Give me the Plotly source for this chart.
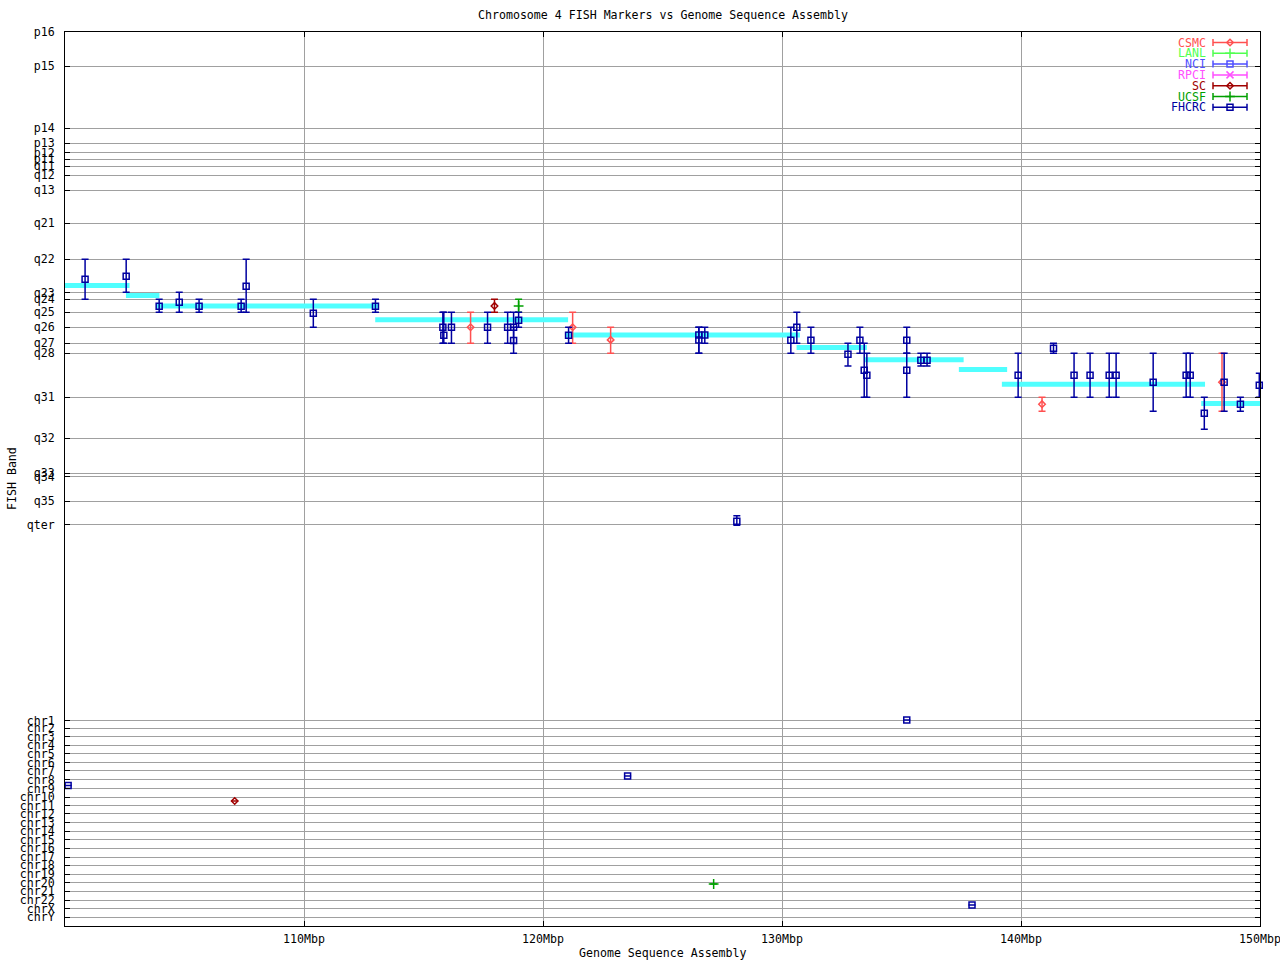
import plotly.graph_objects as go

# ---------------- axis definitions ----------------
band_labels = ["p16", "p15", "p14", "p13", "p12", "p11", "q11", "q12", "q13",
               "q21", "q22", "q23", "q24", "q25", "q26", "q27", "q28",
               "q31", "q32", "q33", "q34", "q35", "qter",
               "chr1", "chr2", "chr3", "chr4", "chr5", "chr6", "chr7", "chr8",
               "chr9", "chr10", "chr11", "chr12", "chr13", "chr14", "chr15",
               "chr16", "chr17", "chr18", "chr19", "chr20", "chr21", "chr22",
               "chrX", "chrY"]
band_pos = [32.0, 66.3, 128.3, 143.3, 153.0, 159.3, 166.3, 175.3, 190.3,
            223.3, 259.3, 292.7, 299.3, 312.3, 327.3, 343.3, 353.3,
            397.3, 438.3, 473.3, 476.7, 501.3, 525.0,
            720.7, 728.3, 737.0, 745.3, 754.0, 762.7, 771.0, 780.0,
            788.7, 797.3, 806.0, 814.0, 823.0, 831.3, 840.0,
            848.7, 857.3, 865.7, 874.3, 883.0, 891.7, 900.3,
            909.0, 917.7]
y_range = [926.3, 32.0]

x_tick_vals = [110, 120, 130, 140, 150]
x_tick_text = ["110Mbp", "120Mbp", "130Mbp", "140Mbp", "150Mbp"]
x_range = [100, 150]

# ---------------- genome sequence assembly (cyan) ----------------
asm_start = [99.9, 102.55, 103.82, 112.98, 120.93, 130.61, 133.46, 137.4, 139.2, 147.54]
asm_end = [102.7, 103.95, 113.1, 121.05, 130.75, 133.55, 137.6, 139.42, 147.7, 150.0]
asm_band = [285.7, 295.7, 306.0, 319.8, 335.0, 347.5, 359.8, 369.5, 384.4, 403.5]

# ---------------- FISH markers ----------------
fhcrc_x = [100.84, 102.56, 103.94, 104.78, 105.61, 107.37, 107.58, 110.39, 112.99,
           115.81, 115.85, 116.17, 117.68, 118.52, 118.77, 118.77, 118.98, 121.07,
           126.52, 126.52, 126.77, 130.37, 130.62, 131.21, 132.76, 133.26, 133.44,
           133.55, 135.22, 135.22, 135.81, 136.07, 139.88, 141.36, 142.22, 142.89,
           143.69, 143.98, 145.53, 146.91, 147.08, 147.67, 148.50, 149.18, 149.97,
           128.11, 135.22, 123.54, 137.95, 100.13]
fhcrc_y = [279.3, 276.3, 306.3, 302.3, 306.3, 306.3, 286.3, 313.3, 306.3,
           327.3, 335.3, 327.3, 327.3, 327.3, 327.3, 340.5, 320.3, 335.3,
           335.0, 340.0, 335.0, 340.3, 327.3, 340.3, 354.3, 340.3, 370.3,
           375.3, 340.3, 370.3, 360.3, 360.3, 375.3, 348.3, 375.3, 375.3,
           375.3, 375.3, 382.3, 375.3, 375.3, 413.3, 382.3, 404.3, 385.3,
           521.3, 720.3, 776.3, 905.3, 785.7]
fhcrc_lo = [259.3, 259.3, 299.3, 292.3, 299.3, 299.3, 259.3, 299.3, 299.3,
            312.3, 312.3, 312.3, 312.3, 312.3, 312.3, 327.3, 312.3, 327.3,
            327.3, 327.3, 327.3, 327.3, 312.3, 327.3, 343.3, 327.3, 343.3,
            353.3, 327.3, 353.3, 353.3, 353.3, 353.3, 343.3, 353.3, 353.3,
            353.3, 353.3, 353.3, 353.3, 353.3, 397.3, 353.3, 397.3, 373.3,
            516.0, 720.3, 776.3, 905.3, 785.7]
fhcrc_hi = [299.3, 292.3, 312.3, 312.3, 312.3, 312.3, 312.3, 327.3, 312.3,
            343.3, 343.3, 343.3, 343.3, 343.3, 343.3, 353.3, 327.3, 343.3,
            353.3, 353.3, 343.3, 353.3, 343.3, 353.3, 366.0, 353.3, 397.3,
            397.3, 353.3, 397.3, 366.0, 366.0, 397.3, 353.3, 397.3, 397.3,
            397.3, 397.3, 411.3, 397.3, 397.3, 429.3, 411.3, 411.3, 397.3,
            525.3, 720.3, 776.3, 905.3, 785.7]

csmc_x = [116.97, 121.24, 122.83, 140.88, 148.41]
csmc_y = [327.3, 327.3, 340.0, 404.3, 382.3]
csmc_lo = [312.3, 312.3, 327.3, 397.3, 353.3]
csmc_hi = [343.3, 343.3, 353.3, 411.3, 411.3]

sc_x = [117.97, 107.10]
sc_y = [306.0, 801.3]
sc_lo = [299.3, 801.3]
sc_hi = [312.3, 801.3]

ucsf_x = [118.98, 127.14]
ucsf_y = [306.0, 884.3]
ucsf_lo = [299.3, 884.3]
ucsf_hi = [312.3, 884.3]

lanl_x, lanl_y, lanl_lo, lanl_hi = [], [], [], []
nci_x, nci_y, nci_lo, nci_hi = [], [], [], []
rpci_x, rpci_y, rpci_lo, rpci_hi = [], [], [], []

# ---------------- styles ----------------
FONT = "DejaVu Sans Mono"
FS = 11.6
CYAN = "#50ffff"
GRID = "#a0a0a0"

sources = [
    ("CSMC", "#ff5050", "diamond-open", csmc_x, csmc_y, csmc_lo, csmc_hi),
    ("LANL", "#50ff50", "cross-thin-open", lanl_x, lanl_y, lanl_lo, lanl_hi),
    ("NCI", "#5050ff", "square-open", nci_x, nci_y, nci_lo, nci_hi),
    ("RPCI", "#ff50ff", "x-thin-open", rpci_x, rpci_y, rpci_lo, rpci_hi),
    ("SC", "#a00000", "diamond-open", sc_x, sc_y, sc_lo, sc_hi),
    ("UCSF", "#00a000", "cross-thin-open", ucsf_x, ucsf_y, ucsf_lo, ucsf_hi),
    ("FHCRC", "#0000a0", "square-open", fhcrc_x, fhcrc_y, fhcrc_lo, fhcrc_hi),
]


def msize(sym):
    if "square" in sym:
        return 6
    if "diamond" in sym:
        return 5
    return 7


fig = go.Figure()

# cyan assembly segments
sx, sy = [], []
for a, b, yb in zip(asm_start, asm_end, asm_band):
    sx += [a, b, None]
    sy += [yb, yb, None]
fig.add_trace(go.Scatter(x=sx, y=sy, mode="lines", line=dict(color=CYAN, width=5),
                         showlegend=False, hoverinfo="skip"))

for name, col, sym, xs, ys, lo, hi in sources:
    if not xs:
        continue
    plus = [h - y for y, h in zip(ys, hi)]
    minus = [y - l for y, l in zip(ys, lo)]
    fig.add_trace(go.Scatter(
        x=xs, y=ys, mode="markers", name=name, showlegend=False,
        marker=dict(symbol=sym, size=msize(sym), color=col, line=dict(color=col, width=1.5)),
        error_y=dict(type="data", symmetric=False, array=plus, arrayminus=minus,
                     color=col, thickness=1.5, width=3.5),
        cliponaxis=False,
    ))

# manual gnuplot-style legend (text left, sample right) on a pixel overlay axis
leg_rows = [42.5, 53.3, 64.1, 74.9, 85.7, 96.5, 107.3]
leg_sample_x = 1230
leg_half = 17
for (name, col, sym, *_), ry in zip(sources, leg_rows):
    fig.add_trace(go.Scatter(
        x=[leg_sample_x], y=[ry], xaxis="x2", yaxis="y2", mode="markers",
        showlegend=False, hoverinfo="skip",
        marker=dict(symbol=sym, size=msize(sym), color=col, line=dict(color=col, width=1.5)),
        error_x=dict(type="constant", value=leg_half, color=col, thickness=1.5, width=3.5),
    ))
    fig.add_annotation(x=1208, y=ry, xref="x2", yref="y2", text=name, showarrow=False,
                       xanchor="right", yanchor="middle",
                       font=dict(family=FONT, size=FS, color=col))

# white background behind legend (hides grid lines there)
fig.add_shape(type="rect", x0=1172, x1=1255, y0=37, y1=113, xref="x2", yref="y2",
              fillcolor="white", line=dict(width=0), layer="below")

# titles
fig.add_annotation(x=0.5, y=(926 - 15) / 894, xref="paper", yref="paper",
                   text="Chromosome 4 FISH Markers vs Genome Sequence Assembly",
                   showarrow=False, xanchor="center", yanchor="middle",
                   font=dict(family=FONT, size=FS, color="black"))
fig.add_annotation(x=0.5, y=(926 - 953) / 894, xref="paper", yref="paper",
                   text="Genome Sequence Assembly", showarrow=False,
                   xanchor="center", yanchor="middle",
                   font=dict(family=FONT, size=FS, color="black"))
fig.add_annotation(x=(12 - 65) / 1195, y=(926 - 478) / 894, xref="paper", yref="paper",
                   text="FISH Band", showarrow=False, textangle=-90,
                   xanchor="center", yanchor="middle",
                   font=dict(family=FONT, size=FS, color="black"))

fig.update_layout(
    width=1280, height=960,
    margin=dict(l=65, r=20, t=32, b=34, pad=0, autoexpand=False),
    paper_bgcolor="white", plot_bgcolor="white",
    showlegend=False,
    font=dict(family=FONT, size=FS, color="black"),
    xaxis=dict(range=x_range, tickvals=x_tick_vals, ticktext=x_tick_text,
               showgrid=True, gridcolor=GRID, gridwidth=1, automargin=False,
               showline=True, linecolor="black", linewidth=1, mirror="ticks",
               ticks="inside", ticklen=5, tickcolor="black", zeroline=False,
               tickfont=dict(family=FONT, size=FS, color="black"),
               ticklabelstandoff=2, ticklabeloverflow="allow"),
    yaxis=dict(range=y_range, tickvals=band_pos, ticktext=band_labels,
               showgrid=True, gridcolor=GRID, gridwidth=1, automargin=False,
               showline=True, linecolor="black", linewidth=1, mirror="ticks",
               ticks="inside", ticklen=5, tickcolor="black", zeroline=False,
               tickfont=dict(family=FONT, size=FS, color="black"),
               ticklabelstandoff=7, ticklabeloverflow="allow"),
    xaxis2=dict(overlaying="x", range=[65, 1260], visible=False, fixedrange=True,
                automargin=False),
    yaxis2=dict(overlaying="y", range=[926, 32], visible=False, fixedrange=True,
                automargin=False),
)

# remove the default page margin so the 1280x960 figure fills the window exactly
fig.write_html("out.html",
               config={"displayModeBar": False},
               post_script="document.body.style.margin='0';"
                           "document.body.style.overflow='hidden';")
